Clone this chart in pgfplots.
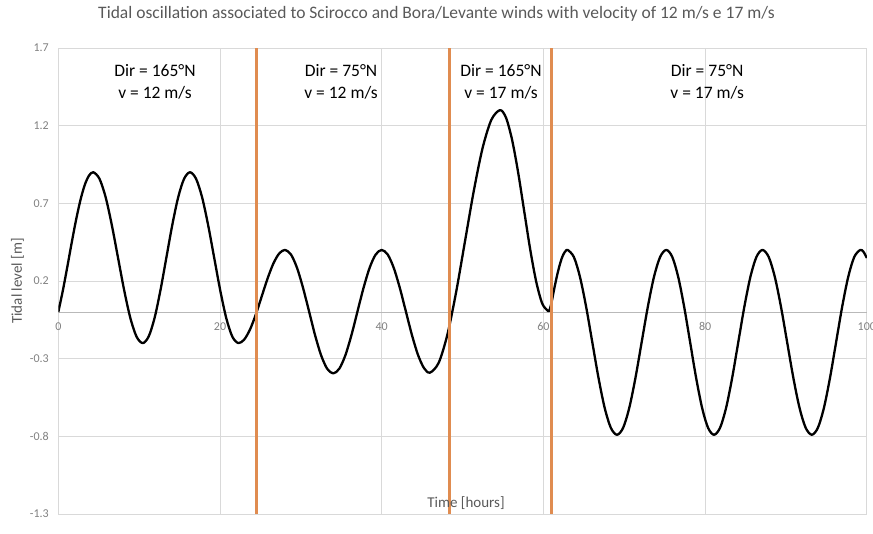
\documentclass[border=0pt]{standalone}
\usepackage{fontspec}
\setmainfont{Carlito}
\usepackage{pgfplots}
\pgfplotsset{compat=1.18}
\definecolor{orng}{RGB}{224,140,80}
\definecolor{gridc}{RGB}{217,217,217}
\definecolor{zeroc}{RGB}{185,185,185}
\definecolor{tickc}{RGB}{128,128,128}
\definecolor{titlec}{RGB}{89,89,89}
\begin{document}
\begin{tikzpicture}
\begin{axis}[at={(0,0)}, anchor=south west, scale only axis,
  width=808.5pt, height=466pt,
  xmin=0, xmax=100, ymin=-1.3, ymax=1.7,
  xtick={0,20,40,60,80,100}, xticklabels={0,20,40,60,80,100},
  ytick={-1.3,-0.8,-0.3,0.2,0.7,1.2,1.7},
  yticklabels={-1.3,-0.8,-0.3,0.2,0.7,1.2,1.7},
  grid=major, major grid style={draw=gridc, line width=0.9pt},
  axis line style={draw=none}, major tick length=0pt,
  tick label style={font=\fontsize{12}{14}\selectfont, text=tickc},
  xticklabel style={anchor=center, yshift=187.3pt},
  yticklabel style={anchor=east, xshift=-6pt},
]
\addplot[zeroc, line width=1pt, forget plot] coordinates {(0,0) (100,0)};
\addplot[black, line width=2.3pt, smooth, line join=round] coordinates {
(0,0) (0.541,0.133) (1.083,0.282) (1.624,0.437) (2.165,0.585) (2.706,0.714) (3.248,0.815) (3.789,0.878) (4.33,0.9)
(5.094,0.858) (5.858,0.739) (6.621,0.560) (7.385,0.35) (8.149,0.140) (8.913,-0.039) (9.676,-0.158) (10.44,-0.2)
(11.171,-0.158) (11.903,-0.039) (12.634,0.140) (13.365,0.35) (14.096,0.560) (14.828,0.739) (15.559,0.858) (16.29,0.9)
(17.038,0.858) (17.785,0.739) (18.533,0.560) (19.28,0.35) (20.028,0.140) (20.775,-0.039) (21.523,-0.158) (22.27,-0.2)
(22.991,-0.177) (23.713,-0.112) (24.434,-0.015) (25.155,0.1) (25.876,0.215) (26.598,0.312) (27.319,0.377) (28.04,0.4)
(28.785,0.370) (29.53,0.284) (30.275,0.155) (31.02,0.003) (31.765,-0.150) (32.51,-0.279) (33.255,-0.365) (34.0,-0.395)
(34.75,-0.365) (35.5,-0.279) (36.25,-0.150) (37,0.003) (37.75,0.155) (38.5,0.284) (39.25,0.370) (40,0.4)
(40.746,0.370) (41.493,0.284) (42.239,0.156) (42.985,0.005) (43.731,-0.146) (44.478,-0.274) (45.224,-0.360) (45.97,-0.39)
(47.053,-0.326) (48.135,-0.143) (49.218,0.132) (50.30,0.455) (51.383,0.778) (52.465,1.053) (53.548,1.236) (54.63,1.3)
(55.376,1.251) (56.123,1.110) (56.869,0.901) (57.615,0.653) (58.361,0.405) (59.108,0.196) (59.854,0.055) (60.6,0.006)
(60.8,0.02) (61.0,0.06) (61.25,0.126) (61.5,0.190) (61.75,0.249) (62.0,0.300) (62.25,0.343) (62.5,0.374) (62.75,0.393) (63.0,0.4)
(63.763,0.355) (64.525,0.226) (65.288,0.033) (66.05,-0.195) (66.813,-0.423) (67.575,-0.616) (68.338,-0.745) (69.1,-0.79)
(69.863,-0.745) (70.625,-0.616) (71.388,-0.423) (72.15,-0.195) (72.913,0.033) (73.675,0.226) (74.438,0.355) (75.2,0.4)
(75.938,0.355) (76.675,0.226) (77.413,0.033) (78.15,-0.195) (78.888,-0.423) (79.625,-0.616) (80.363,-0.745) (81.1,-0.79)
(81.85,-0.745) (82.6,-0.616) (83.35,-0.423) (84.1,-0.195) (84.85,0.033) (85.6,0.226) (86.35,0.355) (87.1,0.4)
(87.863,0.355) (88.625,0.226) (89.388,0.033) (90.15,-0.195) (90.913,-0.423) (91.675,-0.616) (92.438,-0.745) (93.2,-0.79)
(93.95,-0.745) (94.7,-0.616) (95.45,-0.423) (96.2,-0.195) (96.95,0.033) (97.7,0.226) (98.45,0.355) (99.2,0.4)
(99.6,0.387) (100,0.348)
};
\addplot[orng, line width=2.4pt] coordinates {(24.5,-1.3) (24.5,1.7)};
\addplot[orng, line width=2.4pt] coordinates {(48.4,-1.3) (48.4,1.7)};
\addplot[orng, line width=2.4pt] coordinates {(61.0,-1.3) (61.0,1.7)};
\begin{scope}[every node/.style={align=center, font=\fontsize{17.5}{21.6}\selectfont, text=black}]
\node at (axis cs:11.96,1.483) {Dir = 165°N\\v = 12 m/s};
\node at (axis cs:34.97,1.483) {Dir = 75°N\\v = 12 m/s};
\node at (axis cs:54.76,1.483) {Dir = 165°N\\v = 17 m/s};
\node at (axis cs:80.25,1.483) {Dir = 75°N\\v = 17 m/s};
\end{scope}
\end{axis}
\node[font=\fontsize{17.5}{21}\selectfont, text=titlec] at (378.2pt,500pt) {Tidal oscillation associated to Scirocco and Bora/Levante winds with velocity of 12 m/s e 17 m/s};
\node[font=\fontsize{15}{18}\selectfont, text=titlec] at (407.7pt,11pt) {Time [hours]};
\node[font=\fontsize{15}{18}\selectfont, text=titlec, rotate=90] at (-40.8pt,233pt) {Tidal level [m]};
\pgfresetboundingbox
\useasboundingbox (-58.3pt,-20pt) rectangle (814.7pt,514pt);
\end{tikzpicture}
\end{document}
